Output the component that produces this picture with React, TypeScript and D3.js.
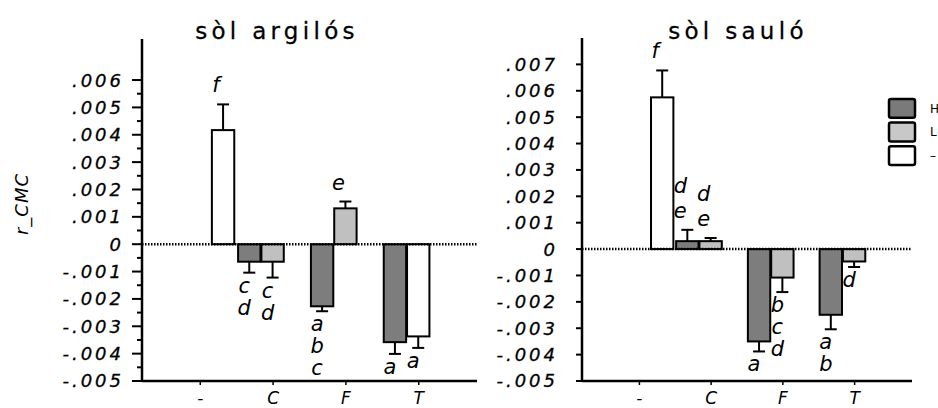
import React from "react";
import * as d3 from "d3";

const categories = ["-", "C", "F", "T"];
const seriesKeys = ["H", "L", "–"];
const seriesFill = ["#7d7d7d", "#c0c0c0", "#ffffff"];
const legendFill = ["#7a7a7a", "#c8c8c8", "#ffffff"];

// sòl argilós
const clayGroup = ["-", "C", "C", "F", "F", "T", "T"];
const claySeries = ["–", "H", "L", "H", "L", "H", "–"];
const clayMean = [0.00417, -0.00064, -0.00064, -0.00227, 0.00131, -0.00358, -0.00337];
const clayErr = [0.00094, 0.0004, 0.00058, 0.00018, 0.00025, 0.00043, 0.00042];
const clayLetters = ["f", "c d", "c d", "a b c", "e", "a", "a"];

// sòl sauló
const sandGroup = ["-", "C", "C", "F", "F", "T", "T"];
const sandSeries = ["–", "H", "L", "H", "L", "H", "L"];
const sandMean = [0.00575, 0.0003, 0.0003, -0.0035, -0.00108, -0.00249, -0.00047];
const sandErr = [0.00102, 0.00043, 0.00012, 0.00038, 0.00055, 0.00055, 0.00021];
const sandLetters = ["f", "d e", "d e", "a", "b c d", "a b", "d"];

const clayTicks = d3.range(-5, 7).map((v) => v / 1000);
const clayMinor = d3.range(-5, 6).map((v) => v / 1000 + 0.0005);
const sandTicks = d3.range(-5, 8).map((v) => v / 1000);

const FONT = "DejaVu Sans, Verdana, sans-serif";

const fmt = (d) => {
  if (Math.abs(d) < 1e-9) return "0";
  return (d < 0 ? "-" : "") + d3.format(".3f")(Math.abs(d)).slice(1);
};

const Panel = ({ title, titleX, left, right, top, bottom, yMax, ticks, minor, tickLen, labelX, group, series, mean, err, letters }) => {
  const x = d3.scalePoint().domain(categories).range([left, right]).padding(0.8);
  const y = d3.scaleLinear().domain([-0.005, yMax]).range([bottom, top]);
  const slot = d3.scaleBand().domain([0, 1, 2]).range([-35, 34]).paddingInner(0.04);

  const rows = mean.map((m, i) => ({ g: group[i], s: series[i], m, e: err[i], letters: letters[i].split(" ") }));
  // bars present in a group are packed from the slot of the first series present
  const placed = rows.map((r) => {
    const inGroup = rows.filter((q) => q.g === r.g);
    const start = seriesKeys.indexOf(inGroup[0].s);
    const k = start + inGroup.indexOf(r);
    const x0 = x(r.g) + slot(k);
    return { ...r, x0, w: slot.bandwidth(), fill: seriesFill[seriesKeys.indexOf(r.s)] };
  });

  return (
    <g>
      <text x={titleX} y={39} textAnchor="middle" fontFamily={FONT} fontSize={23} letterSpacing={4.3} stroke="#000" strokeWidth={0.3}>
        {title}
      </text>

      {placed.map((b, i) => {
        const y0 = y(0);
        const y1 = y(b.m);
        const cx = b.x0 + b.w / 2;
        const ye = y(b.m + (b.m >= 0 ? b.e : -b.e));
        return (
          <g key={i}>
            <line x1={cx} x2={cx} y1={y1} y2={ye} stroke="#000" strokeWidth={2} />
            <line x1={cx - 6} x2={cx + 6} y1={ye} y2={ye} stroke="#000" strokeWidth={2} />
            <rect x={b.x0} y={Math.min(y0, y1)} width={b.w} height={Math.abs(y1 - y0)} fill={b.fill} stroke="#000" strokeWidth={2} />
            {b.letters.map((t, j) =>
              b.m >= 0 ? (
                <text key={j} x={cx - 7} y={ye - 12 - (b.letters.length - 1 - j) * 25} textAnchor="middle" fontFamily={FONT} fontStyle="italic" fontSize={21}>
                  {t}
                </text>
              ) : (
                <text key={j} x={cx - 5} y={ye + 20 + j * 22} textAnchor="middle" fontFamily={FONT} fontStyle="italic" fontSize={21}>
                  {t}
                </text>
              )
            )}
          </g>
        );
      })}

      <line x1={left} x2={right} y1={y(0)} y2={y(0)} stroke="#000" strokeWidth={2.5} strokeDasharray="1.5 1.5" />

      {/* y axis */}
      <line x1={left} x2={left} y1={top} y2={bottom} stroke="#000" strokeWidth={2.5} />
      {ticks.map((t) => (
        <g key={t}>
          <line x1={left - tickLen} x2={left} y1={y(t)} y2={y(t)} stroke="#000" strokeWidth={2} />
          <text x={labelX} y={y(t)} dy="0.36em" textAnchor="end" fontFamily={FONT} fontStyle="italic" fontSize={18} letterSpacing={3} stroke="#000" strokeWidth={0.3}>
            {fmt(t)}
          </text>
        </g>
      ))}
      {minor.map((t) => (
        <line key={t} x1={left - 5} x2={left} y1={y(t)} y2={y(t)} stroke="#000" strokeWidth={2} />
      ))}

      {/* x axis */}
      <line x1={left} x2={right} y1={bottom} y2={bottom} stroke="#000" strokeWidth={2.5} />
      {categories.map((c) => (
        <g key={c}>
          <line x1={x(c)} x2={x(c)} y1={bottom} y2={bottom + 4} stroke="#000" strokeWidth={1.5} />
          <text x={x(c)} y={404} textAnchor="middle" fontFamily={FONT} fontStyle="italic" fontSize={17}>
            {c}
          </text>
        </g>
      ))}
    </g>
  );
};

const App = () => {
  const legendY = d3.scaleBand().domain(seriesKeys).range([99, 165]).paddingInner(0.2);
  return (
    <svg width={938} height={408} style={{ position: "absolute", left: 0, top: 0, background: "#fff" }}>
      <text transform="translate(28,204) rotate(-90)" textAnchor="middle" fontFamily={FONT} fontStyle="italic" fontSize={18} letterSpacing={1}>
        r_CMC
      </text>
      <Panel
        title="sòl argilós"
        titleX={277}
        left={142}
        right={477}
        top={39}
        bottom={381}
        yMax={0.0075}
        ticks={clayTicks}
        minor={clayMinor}
        tickLen={10}
        labelX={124}
        group={clayGroup}
        series={claySeries}
        mean={clayMean}
        err={clayErr}
        letters={clayLetters}
      />
      <Panel
        title="sòl sauló"
        titleX={738}
        left={582}
        right={912}
        top={38}
        bottom={381}
        yMax={0.008}
        ticks={sandTicks}
        minor={[]}
        tickLen={6}
        labelX={558}
        group={sandGroup}
        series={sandSeries}
        mean={sandMean}
        err={sandErr}
        letters={sandLetters}
      />
      {seriesKeys.map((k, i) => (
        <g key={k}>
          <rect x={889} y={legendY(k)} width={26} height={legendY.bandwidth()} rx={2} fill={legendFill[i]} stroke="#000" strokeWidth={2.5} />
          <text x={930} y={legendY(k) + legendY.bandwidth() / 2} dy="0.36em" fontFamily={FONT} fontSize={12}>
            {k}
          </text>
        </g>
      ))}
    </svg>
  );
};

export default App;
